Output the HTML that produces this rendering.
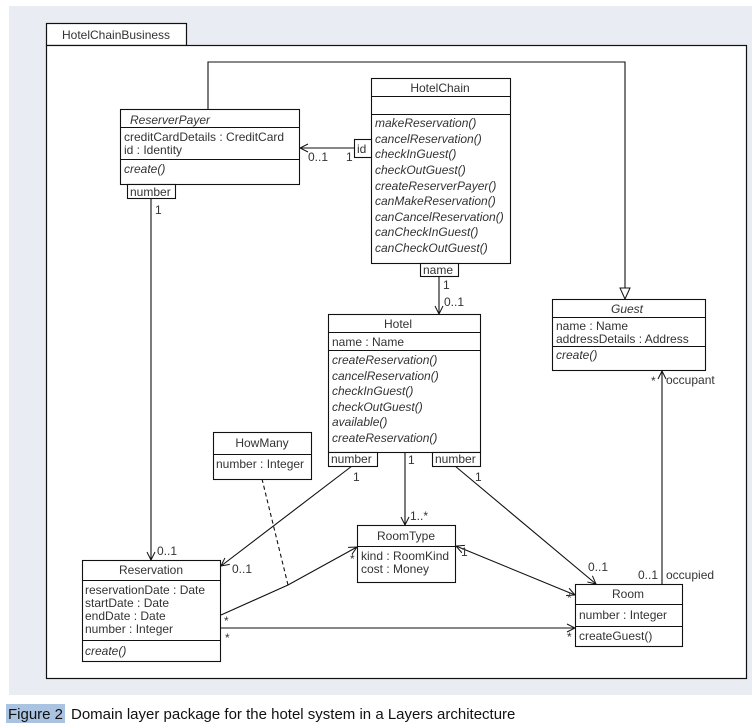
<!DOCTYPE html>
<html><head><meta charset="utf-8"><style>
html,body{margin:0;padding:0;background:#fff;width:752px;height:728px;overflow:hidden}
svg text{font-family:"Liberation Sans",sans-serif;font-size:12px;fill:#333}
.cap{font-size:15px;fill:#111}
</style></head><body>
<svg width="752" height="728" viewBox="0 0 752 728" xmlns="http://www.w3.org/2000/svg">
<defs>
<marker id="oa" markerWidth="10" markerHeight="10" refX="9" refY="5" orient="auto" markerUnits="userSpaceOnUse"><path d="M1,1 L9,5 L1,9" fill="none" stroke="#111" stroke-width="1"/></marker>
<marker id="oas" markerWidth="10" markerHeight="10" refX="1" refY="5" orient="auto" markerUnits="userSpaceOnUse"><path d="M9,1 L1,5 L9,9" fill="none" stroke="#111" stroke-width="1"/></marker>
<marker id="tri" markerWidth="14" markerHeight="14" refX="12" refY="6" orient="auto" markerUnits="userSpaceOnUse"><path d="M1,1 L12,6 L1,11 Z" fill="#fff" stroke="#111" stroke-width="1"/></marker>
</defs>
<rect x="9" y="6" width="743" height="689" fill="#e9edf3"/>
<g stroke="#111" stroke-width="1.2" fill="#fff">
<rect x="46.5" y="23.5" width="140" height="22"/>
<rect x="46.5" y="45.5" width="700" height="633"/>
</g>
<text x="62" y="39">HotelChainBusiness</text>

<g stroke="#111" stroke-width="1.1" fill="none">
<polyline points="208,109 208,62 625,62 625,299" marker-end="url(#tri)"/>
<line x1="354" y1="148" x2="300" y2="148" marker-end="url(#oa)"/>
<line x1="151" y1="199" x2="151" y2="560" marker-end="url(#oa)"/>
<line x1="439" y1="276" x2="439" y2="314" marker-end="url(#oa)"/>
<line x1="405" y1="452" x2="405" y2="525" marker-end="url(#oa)"/>
<line x1="352" y1="466" x2="221" y2="566" marker-end="url(#oa)"/>
<line x1="455" y1="466" x2="596" y2="584" marker-end="url(#oa)"/>
<line x1="456" y1="546" x2="575" y2="595" marker-start="url(#oas)" marker-end="url(#oa)"/>
<polyline points="221,615 288,585 357,547" marker-end="url(#oa)"/>
<line x1="221" y1="628" x2="575" y2="628" marker-end="url(#oa)"/>
<line x1="662" y1="584" x2="662" y2="371" marker-end="url(#oa)"/>
<line x1="262" y1="479" x2="288" y2="585" stroke-dasharray="4,3"/>
</g>

<g stroke="#111" stroke-width="1.1" fill="#fff">
<!-- ReserverPayer -->
<rect x="120.5" y="109.5" width="179" height="75"/>
<line x1="120" y1="127.5" x2="300" y2="127.5"/><line x1="120" y1="159.5" x2="300" y2="159.5"/>
<rect x="127.5" y="184.5" width="48" height="14"/>
<!-- HotelChain -->
<rect x="371.5" y="78.5" width="139" height="185"/>
<line x1="371" y1="96.5" x2="511" y2="96.5"/><line x1="371" y1="114.5" x2="511" y2="114.5"/>
<rect x="354.5" y="139.5" width="17" height="18"/>
<rect x="420.5" y="263.5" width="38" height="13"/>
<!-- Guest -->
<rect x="552.5" y="299.5" width="153" height="71"/>
<line x1="552" y1="317.5" x2="706" y2="317.5"/><line x1="552" y1="346.5" x2="706" y2="346.5"/>
<!-- Hotel -->
<rect x="328.5" y="314.5" width="152" height="138"/>
<line x1="328" y1="332.5" x2="481" y2="332.5"/><line x1="328" y1="350.5" x2="481" y2="350.5"/>
<rect x="328.5" y="452.5" width="49" height="14"/>
<rect x="432.5" y="452.5" width="48" height="14"/>
<!-- HowMany -->
<rect x="213.5" y="432.5" width="98" height="47"/>
<line x1="213" y1="454.5" x2="312" y2="454.5"/>
<!-- RoomType -->
<rect x="357.5" y="525.5" width="98" height="57"/>
<line x1="357" y1="546.5" x2="456" y2="546.5"/>
<!-- Reservation -->
<rect x="82.5" y="560.5" width="138" height="101"/>
<line x1="82" y1="580.5" x2="221" y2="580.5"/><line x1="82" y1="640.5" x2="221" y2="640.5"/>
<!-- Room -->
<rect x="575.5" y="584.5" width="107" height="62"/>
<line x1="575" y1="604.5" x2="683" y2="604.5"/><line x1="575" y1="626.5" x2="683" y2="626.5"/>
</g>

<text x="170" y="124" text-anchor="middle" font-style="italic">ReserverPayer</text>
<text x="124" y="141">creditCardDetails : CreditCard</text>
<text x="124" y="154">id : Identity</text>
<text x="124" y="173" font-style="italic">create()</text>
<text x="130" y="196">number</text>

<text x="440" y="92" text-anchor="middle">HotelChain</text>
<g font-style="italic">
<text x="375" y="127">makeReservation()</text>
<text x="375" y="143">cancelReservation()</text>
<text x="375" y="158">checkInGuest()</text>
<text x="375" y="174">checkOutGuest()</text>
<text x="375" y="190">createReserverPayer()</text>
<text x="375" y="205">canMakeReservation()</text>
<text x="375" y="221">canCancelReservation()</text>
<text x="375" y="236">canCheckInGuest()</text>
<text x="375" y="252">canCheckOutGuest()</text>
</g>
<text x="357" y="153">id</text>
<text x="423" y="274">name</text>

<text x="627" y="313" text-anchor="middle" font-style="italic">Guest</text>
<text x="556" y="330">name : Name</text>
<text x="556" y="343">addressDetails : Address</text>
<text x="556" y="359" font-style="italic">create()</text>

<text x="398" y="328" text-anchor="middle">Hotel</text>
<text x="332" y="346">name : Name</text>
<g font-style="italic">
<text x="332" y="364">createReservation()</text>
<text x="332" y="380">cancelReservation()</text>
<text x="332" y="395">checkInGuest()</text>
<text x="332" y="411">checkOutGuest()</text>
<text x="332" y="426">available()</text>
<text x="332" y="442">createReservation()</text>
</g>
<text x="331" y="463">number</text>
<text x="435" y="463">number</text>

<text x="262" y="447" text-anchor="middle">HowMany</text>
<text x="216" y="468">number : Integer</text>

<text x="406" y="540" text-anchor="middle">RoomType</text>
<text x="361" y="560">kind : RoomKind</text>
<text x="361" y="573">cost : Money</text>

<text x="151" y="574" text-anchor="middle">Reservation</text>
<text x="85" y="594">reservationDate : Date</text>
<text x="85" y="607">startDate : Date</text>
<text x="85" y="620">endDate : Date</text>
<text x="85" y="633">number : Integer</text>
<text x="85" y="655" font-style="italic">create()</text>

<text x="628" y="598" text-anchor="middle">Room</text>
<text x="579" y="619">number : Integer</text>
<text x="579" y="640">createGuest()</text>

<g font-size="12">
<text x="308" y="161">0..1</text><text x="346" y="161">1</text>
<text x="155" y="214">1</text><text x="157" y="555">0..1</text>
<text x="443" y="289">1</text><text x="444" y="306">0..1</text>
<text x="408" y="464">1</text><text x="410" y="520">1..*</text>
<text x="353" y="481">1</text><text x="232" y="573">0..1</text>
<text x="475" y="481">1</text><text x="588" y="571">0..1</text>
<text x="461" y="556">1</text><text x="567" y="602">*</text>
<text x="224" y="625">*</text><text x="350" y="563">*</text>
<text x="225" y="642">*</text><text x="567" y="641">*</text>
<text x="651" y="385">*</text><text x="666" y="384">occupant</text>
<text x="638" y="579">0..1</text><text x="666" y="579">occupied</text>
</g>

<rect x="6" y="704" width="59" height="19" fill="#a9c3e0"/>
<text class="cap" x="8" y="719">Figure 2</text>
<text class="cap" x="71" y="719">Domain layer package for the hotel system in a Layers architecture</text>
</svg>
</body></html>
